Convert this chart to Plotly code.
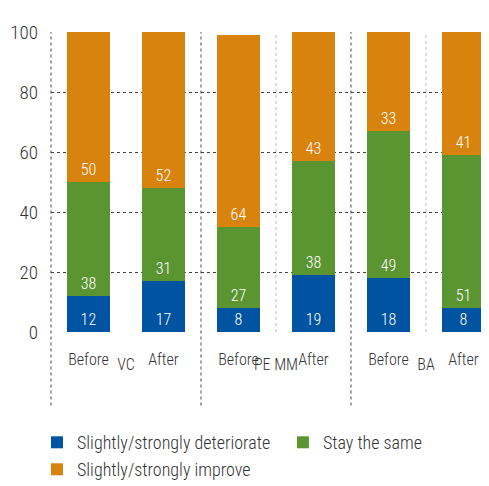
import plotly.graph_objects as go

groups = ["VC", "VC", "PE MM", "PE MM", "BA", "BA"]
periods = ["Before", "After", "Before", "After", "Before", "After"]
deteriorate = [12, 17, 8, 19, 18, 8]
same = [38, 31, 27, 38, 49, 51]
improve = [50, 52, 64, 43, 33, 41]
series_names = ["Slightly/strongly deteriorate", "Stay the same", "Slightly/strongly improve"]
colors = ["#0053A1", "#5B9532", "#D9830F"]
legend_ids = ["legend", "legend2", "legend3"]
y_ticks = [0, 20, 40, 60, 80, 100]

FONT = "Roboto Condensed, Liberation Sans Narrow, sans-serif"
TXT = "#333333"

fig = go.Figure()
for name, vals, col, lg in zip(series_names, [deteriorate, same, improve], colors, legend_ids):
    fig.add_trace(go.Bar(
        x=[groups, periods], y=vals, name=name, legend=lg,
        marker=dict(color=col, line=dict(width=0)),
        text=vals, textposition="inside", insidetextanchor="start",
        textangle=0, constraintext="none",
        textfont=dict(color="white", size=16, family=FONT, weight=300),
        hoverinfo="skip",
    ))

# divider lines (dotted)
for xv, col in [(1.5, "#444444"), (3.5, "#444444"), (2.5, "#BBBBBB"), (4.5, "#BBBBBB")]:
    y0 = -0.245 if col == "#444444" else 0
    fig.add_shape(type="line", xref="x", yref="paper", x0=xv, x1=xv, y0=y0, y1=1,
                  line=dict(color=col, width=1, dash="dot"), layer="below")
fig.add_shape(type="line", xref="paper", yref="paper", x0=0, x1=0, y0=-0.245, y1=1,
              line=dict(color="#444444", width=1, dash="dot"), layer="below")

legend_common = dict(orientation="v", xanchor="left", yanchor="top",
                     font=dict(size=18, color=TXT, family=FONT, weight=300),
                     traceorder="normal", itemclick=False, itemdoubleclick=False,
                     bgcolor="rgba(0,0,0,0)")

fig.update_layout(
    width=489, height=486,
    margin=dict(l=43, r=0, t=24, b=162, autoexpand=False),
    barmode="stack", bargap=0.427,
    plot_bgcolor="white", paper_bgcolor="white",
    font=dict(family=FONT, color=TXT, weight=300),
    showlegend=True,
    legend=dict(x=-0.0314, y=-0.307, **legend_common),
    legend2=dict(x=0.520, y=-0.307, **legend_common),
    legend3=dict(x=-0.0314, y=-0.397, **legend_common),
)
fig.update_xaxes(type="multicategory", range=[-0.5, 5.447], showdividers=False,
                 tickfont=dict(size=16, color=TXT, family=FONT, weight=300),
                 showgrid=False, showline=False, ticks="", automargin=False,
                 ticklabelstandoff=16)
fig.update_yaxes(range=[0, 100], tickvals=y_ticks, showgrid=True, gridcolor="#444444",
                 griddash="dot", gridwidth=1, zeroline=False, showline=False,
                 tickfont=dict(size=19, color=TXT, family=FONT, weight=300), ticks="",
                 ticklabelstandoff=12, automargin=False)

fig.write_html("out.html")
